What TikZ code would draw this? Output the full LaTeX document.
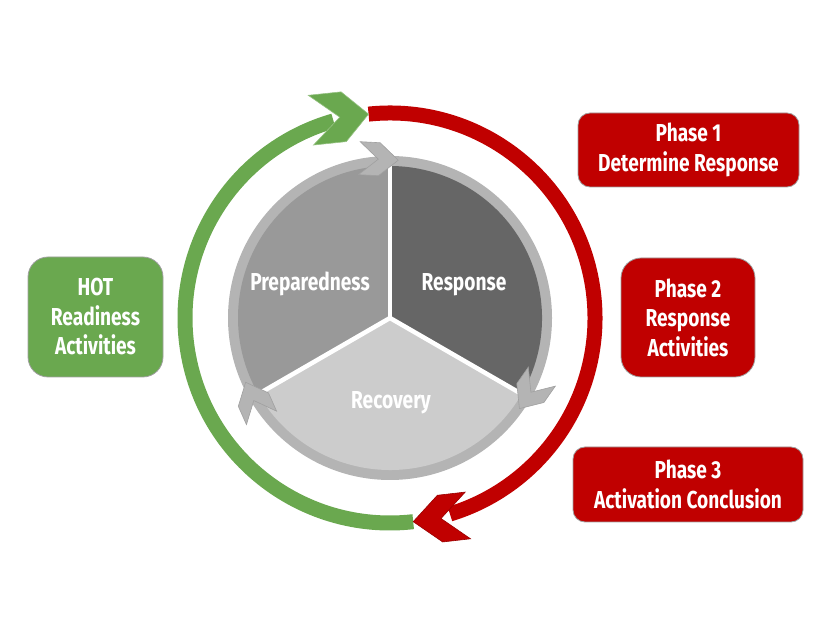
\documentclass[tikz,border=0pt]{standalone}
\usepackage{fontspec}
\setmainfont{Fira Sans}[FakeStretch=0.78]
\definecolor{myred}{HTML}{C00000}
\definecolor{mygreen}{HTML}{6AA84F}
\definecolor{ringgray}{HTML}{B4B4B4}
\definecolor{prepgray}{HTML}{999999}
\definecolor{respgray}{HTML}{666666}
\definecolor{recgray}{HTML}{CCCCCC}
\definecolor{edgegray}{HTML}{A0A0A0}
\newcommand{\lblfont}{\fontsize{24.5}{29.5}\selectfont\bfseries}
% #1 style, #2 tip angle, #3 front depth, #4 back depth, #5 notch depth, #6 half height
\newcommand{\chevbig}[6]{%
  \begin{scope}[shift={(C)},shift={(#2:205pt)},rotate={#2-90}]
    \filldraw[#1] (0,0)--(-#3,#6)--(-#4,#6)--(-#5,0)--(-#4,-#6)--(-#3,-#6)--cycle;
  \end{scope}}
\newcommand{\chevsmall}[1]{%
  \begin{scope}[shift={(C)},shift={(#1:158pt)},rotate={#1-90}]
    \filldraw[smallchev] (0,0)--(-19,16.5)--(-39,16.5)--(-20,0)--(-39,-16.5)--(-19,-16.5)--cycle;
  \end{scope}}
\tikzset{
  phasebox/.style={fill=myred, draw=edgegray, line width=0.8pt, rounded corners=#1,
    text=white, font=\lblfont, align=center, inner sep=0pt},
  greenbox/.style={phasebox=#1, fill=mygreen},
  sectorlabel/.style={text=white, font=\lblfont, anchor=base, inner sep=0pt},
  arcband/.style={line width=15pt},
  smallchev/.style={fill=ringgray, draw=edgegray, line width=0.6pt, line join=miter},
  redchev/.style={fill=myred, draw=myred!80!black, line width=0.6pt},
  greenchev/.style={fill=mygreen, draw=mygreen!70!white, line width=0.6pt},
}
\begin{document}
\begin{tikzpicture}[x=1pt,y=1pt]
\useasboundingbox (0,0) rectangle (834,617);
\coordinate (C) at (390,299);
% inner cycle
\fill[ringgray] (C) circle[radius=162pt];
\fill[prepgray] (C) -- ([shift={(90:152pt)}]C) arc[start angle=90,end angle=210,radius=152pt] -- cycle;
\fill[respgray] (C) -- ([shift={(-30:152pt)}]C) arc[start angle=-30,end angle=90,radius=152pt] -- cycle;
\fill[recgray] (C) -- ([shift={(210:152pt)}]C) arc[start angle=210,end angle=330,radius=152pt] -- cycle;
\foreach \a in {90,210,330} \draw[white,line width=4.5pt] (C) -- ([shift={(\a:152pt)}]C);
\node[sectorlabel] (prep) at (310,326) {Preparedness};
\node[sectorlabel] (resp) at (464,326) {Response};
\node[sectorlabel] (rec) at (391,208.5) {Recovery};
\chevsmall{87}
\chevsmall{-35}
\chevsmall{204}
% outer cycle
\draw[arcband, myred] ([shift={(96:205pt)}]C) arc[start angle=96,end angle=-73,radius=205pt];
\draw[arcband, mygreen] ([shift={(-83.5:205pt)}]C) arc[start angle=-83.5,end angle=-254,radius=205pt];
\chevbig{greenchev}{96}{25}{58}{29}{25}
\chevbig{redchev}{-83.5}{27}{55}{28}{23.5}
% boxes
\node[phasebox=12pt, minimum width=221pt, minimum height=74pt] (p1) at (688.5,467) {Phase 1\\Determine Response};
\node[phasebox=20pt, minimum width=134pt, minimum height=119pt] (p2) at (688,299.5) {Phase 2\\Response\\Activities};
\node[phasebox=12pt, minimum width=230pt, minimum height=75pt] (p3) at (688,132.5) {Phase 3\\Activation Conclusion};
\node[greenbox=20pt, minimum width=135pt, minimum height=120pt] (hot) at (95.5,300) {HOT\\Readiness\\Activities};
\end{tikzpicture}
\end{document}
